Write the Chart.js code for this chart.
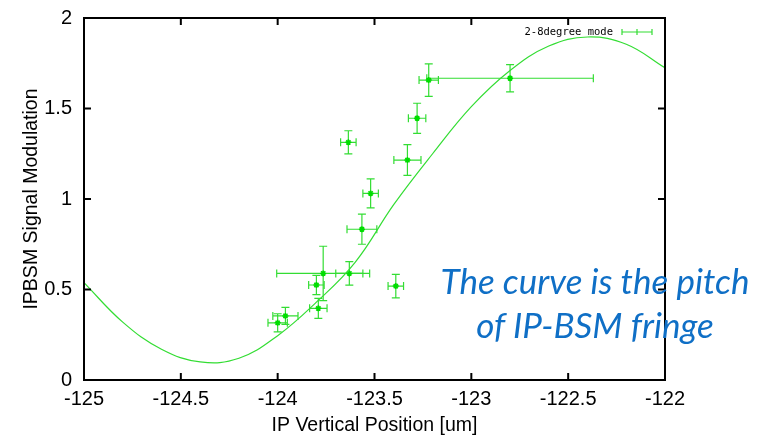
<!DOCTYPE html>
<html>
<head>
<meta charset="utf-8">
<script src="https://cdn.jsdelivr.net/npm/chart.js@4.4.0/dist/chart.umd.min.js"></script>
<style>
  body { margin: 0; background: #fff; }
  #wrap { position: relative; width: 760px; height: 441px; }
  #note {
    position: absolute; left: 420px; top: 258px; width: 350px;
    text-align: center; color: #0F6FC6;
    font: italic 35px Lato, "Open Sans", sans-serif; line-height: 44px;
  }
</style>
</head>
<body>

<div id="wrap">
  <canvas id="fringeChart" width="760" height="441"></canvas>
  <div id="note">The curve is the pitch<br>of IP-BSM fringe</div>
</div>

<script>
// measured points (um, modulation) with errors
var xPos = [-124.00, -123.96, -123.80, -123.765, -123.79, -123.63, -123.39, -123.565, -123.52, -123.635, -123.33, -123.28, -123.22, -122.80];
var yVal = [0.316, 0.354, 0.525, 0.589, 0.396, 0.589, 0.519, 0.833, 1.031, 1.313, 1.215, 1.446, 1.657, 1.667];
var xErr = [0.05, 0.065, 0.04, 0.24, 0.045, 0.07, 0.04, 0.077, 0.04, 0.04, 0.07, 0.045, 0.05, 0.43];
var yErr = [0.05, 0.047, 0.053, 0.15, 0.055, 0.065, 0.065, 0.083, 0.08, 0.064, 0.085, 0.083, 0.09, 0.075];

// fringe curve, every 0.2 um
var curveX = [-125, -124.8, -124.6, -124.4, -124.2, -124, -123.8, -123.6, -123.4, -123.2, -123, -122.8, -122.6, -122.4, -122.2, -122];
var curveY = [0.538, 0.32, 0.17, 0.10, 0.12, 0.245, 0.43, 0.65, 0.97, 1.25, 1.51, 1.71, 1.845, 1.895, 1.855, 1.725];

var legendLabel = "2-8degree mode";
var green = "#33dd33";

var points = xPos.map(function(x, i) { return {x: x, y: yVal[i]}; });
var curve = curveX.map(function(x, i) { return {x: x, y: curveY[i]}; });

var framePlugin = {
  id: "frame",
  beforeDatasetsDraw: function(chart) {
    var ctx = chart.ctx, xs = chart.scales.x, ys = chart.scales.y;
    ctx.save();
    ctx.strokeStyle = green;
    ctx.lineWidth = 1.2;
    var cap = 4;
    for (var i = 0; i < xPos.length; i++) {
      var px = xs.getPixelForValue(xPos[i]), py = ys.getPixelForValue(yVal[i]);
      var x1 = xs.getPixelForValue(xPos[i] - xErr[i]), x2 = xs.getPixelForValue(xPos[i] + xErr[i]);
      var y1 = ys.getPixelForValue(yVal[i] - yErr[i]), y2 = ys.getPixelForValue(yVal[i] + yErr[i]);
      ctx.beginPath();
      ctx.moveTo(x1, py); ctx.lineTo(x2, py);
      ctx.moveTo(x1, py - cap); ctx.lineTo(x1, py + cap);
      ctx.moveTo(x2, py - cap); ctx.lineTo(x2, py + cap);
      ctx.moveTo(px, y1); ctx.lineTo(px, y2);
      ctx.moveTo(px - cap, y1); ctx.lineTo(px + cap, y1);
      ctx.moveTo(px - cap, y2); ctx.lineTo(px + cap, y2);
      ctx.stroke();
    }
    ctx.restore();
  },
  afterDraw: function(chart) {
    var ctx = chart.ctx, a = chart.chartArea, xs = chart.scales.x, ys = chart.scales.y;
    ctx.save();
    ctx.strokeStyle = "#000";
    ctx.lineWidth = 2;
    ctx.strokeRect(a.left, a.top, a.right - a.left, a.bottom - a.top);
    ctx.beginPath();
    var t = 7;
    xs.ticks.forEach(function(tk) {
      var p = xs.getPixelForValue(tk.value);
      ctx.moveTo(p, a.bottom); ctx.lineTo(p, a.bottom - t);
      ctx.moveTo(p, a.top); ctx.lineTo(p, a.top + t);
    });
    ys.ticks.forEach(function(tk) {
      var p = ys.getPixelForValue(tk.value);
      ctx.moveTo(a.left, p); ctx.lineTo(a.left + t, p);
      ctx.moveTo(a.right, p); ctx.lineTo(a.right - t, p);
    });
    ctx.stroke();

    // gnuplot style key
    var ky = a.top + 14;
    ctx.fillStyle = "#000";
    ctx.font = "10.5px 'DejaVu Sans Mono', monospace";
    ctx.textAlign = "right";
    ctx.textBaseline = "middle";
    ctx.fillText(legendLabel, a.right - 52, ky);
    ctx.strokeStyle = green;
    ctx.lineWidth = 1.2;
    ctx.beginPath();
    var l1 = a.right - 43, l2 = a.right - 13, lm = (l1 + l2) / 2;
    ctx.moveTo(l1, ky); ctx.lineTo(l2, ky);
    [l1, lm, l2].forEach(function(p) { ctx.moveTo(p, ky - 3); ctx.lineTo(p, ky + 3); });
    ctx.stroke();
    ctx.restore();
  }
};

var tickFont = {family: "'Liberation Sans', Arial, sans-serif", size: 20};
var titleFont = {family: "'Liberation Sans', Arial, sans-serif", size: 19.5};
var fmt = function(v) { return String(Number(v.toFixed(2))); };

new Chart("fringeChart", {
  type: "scatter",
  data: {
    datasets: [{
      data: curve,
      showLine: true,
      borderColor: green,
      borderWidth: 1.2,
      pointRadius: 0,
      tension: 0.4,
      fill: false
    }, {
      data: points,
      showLine: false,
      pointStyle: "star",
      pointRadius: 3,
      borderWidth: 1.5,
      borderColor: "#00dd00",
      backgroundColor: "#00dd00"
    }]
  },
  options: {
    responsive: false,
    animation: false,
    layout: {padding: {top: 18, right: 95, left: 18, bottom: 0}},
    plugins: {legend: {display: false}, tooltip: {enabled: false}},
    scales: {
      x: {
        type: "linear", min: -125, max: -122,
        ticks: {stepSize: 0.5, color: "#000", font: tickFont, padding: 7, callback: fmt},
        grid: {display: false, drawTicks: false},
        border: {display: false},
        title: {display: true, text: "IP Vertical Position [um]", color: "#000", font: titleFont, padding: {top: 7}},
        afterFit: function(s) { s.height = 61; s.paddingLeft = 0; s.paddingRight = 0; }
      },
      y: {
        min: 0, max: 2,
        ticks: {stepSize: 0.5, color: "#000", font: tickFont, padding: 12, callback: fmt},
        grid: {display: false, drawTicks: false},
        border: {display: false},
        title: {display: true, text: "IPBSM Signal Modulation", color: "#000", font: titleFont, padding: {top: 2}},
        afterFit: function(s) { s.width = 66; s.paddingTop = 0; s.paddingBottom = 0; }
      }
    }
  },
  plugins: [framePlugin]
});
</script>

</body>
</html>
